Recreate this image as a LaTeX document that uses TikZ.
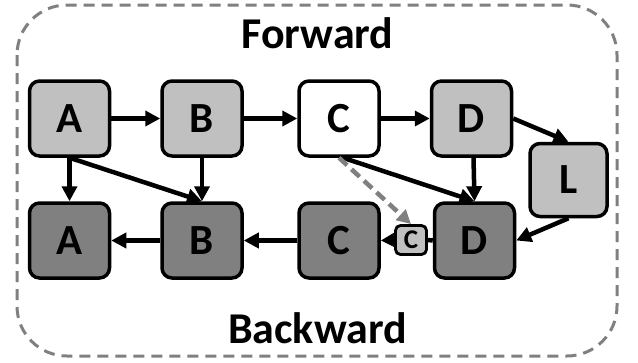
\documentclass[tikz,border=0pt]{standalone}
\usepackage{fontspec}
\setmainfont{Carlito}
\usetikzlibrary{arrows.meta}
\definecolor{lgray}{RGB}{192,192,192}
\definecolor{dgray}{RGB}{128,128,128}
\definecolor{fgray}{RGB}{128,128,128}
\begin{document}
\begin{tikzpicture}[x=1pt,y=-1pt,
  box/.style={draw=black,line width=3.5pt,rounded corners=10pt,minimum width=80pt,minimum height=75pt,inner sep=0pt,font=\fontsize{43}{43}\selectfont\bfseries},
  fwd/.style={box,fill=lgray},
  fwdw/.style={box,fill=white},
  bwd/.style={box,fill=dgray},
  smallbox/.style={draw=black,line width=2.8pt,rounded corners=5pt,minimum width=31pt,minimum height=29pt,inner sep=0pt,fill=lgray,font=\fontsize{27}{27}\selectfont\bfseries},
  arr/.style={line width=4.5pt,-{Triangle[length=15pt,width=15pt]}},
  plain/.style={line width=4.5pt},
  dasharr/.style={line width=4.5pt,draw=dgray,dash pattern=on 11pt off 6pt,-{Triangle[length=14pt,width=14pt]}},
  title/.style={font=\fontsize{44}{44}\selectfont\bfseries,anchor=base,inner sep=0pt}
]
\useasboundingbox (0,0) rectangle (638,362);
\draw[fgray,line width=3pt,dash pattern=on 11pt off 7pt,rounded corners=50pt] (17,5) rectangle (617,356);
\node[title] (fw) at (317.5,48) {Forward};
\node[title] (bw) at (317.5,343) {Backward};
% forward row
\node[fwd] (fA) at (69.5,118.5) {A};
\node[fwd] (fB) at (202,118.5) {B};
\node[fwdw] (fC) at (339,118.5) {C};
\node[fwd] (fD) at (471.5,118.5) {D};
\node[fwd,minimum width=77pt,minimum height=73pt] (L) at (568.5,180) {L};
% backward row
\node[bwd] (bA) at (69.5,240.5) {A};
\node[bwd] (bB) at (202,240.5) {B};
\node[bwd] (bC) at (339,240.5) {C};
\node[bwd] (bD) at (474.5,240.5) {D};
\node[smallbox] (sC) at (411,240) {C};
% edges
\draw[arr] (fA) -- (fB);
\draw[arr] (fB) -- (fC);
\draw[arr] (fC) -- (fD);
\draw[arr] (fD.east) -- (L.north);
\draw[arr] (fA.south) -- (bA.north);
\draw[arr] (fA.south) -- (bB.north);
\draw[arr] (fB.south) -- (bB.north);
\draw[arr] ([xshift=4pt]fC.south) -- (bD.north);
\draw[arr] ([xshift=2pt]fD.south) -- (bD.north);
\draw[arr] (L.south) -- (bD.east);
\draw[plain] (bD.west) -- (sC.east);
\draw[arr] (sC.west) -- (bC.east);
\draw[arr] (bC) -- (bB);
\draw[arr] (bB) -- (bA);
\draw[dasharr] (fC.south) -- (sC.north);
\end{tikzpicture}
\end{document}
